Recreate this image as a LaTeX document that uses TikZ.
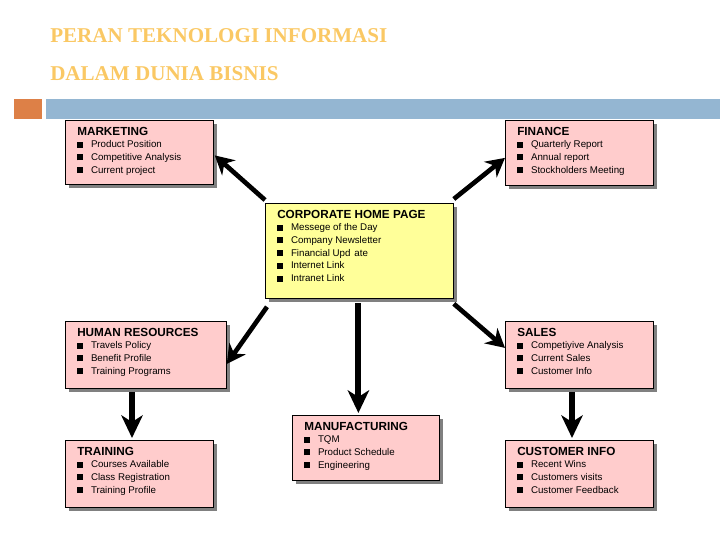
\documentclass[tikz,border=0pt]{standalone}
\usepackage{fontspec}
\setmainfont{Liberation Sans}
\newfontfamily\ttlfont{Liberation Serif}
\usetikzlibrary{arrows.meta,calc}
\definecolor{pinkbox}{HTML}{FFCCCC}
\definecolor{yelbox}{HTML}{FFFF99}
\definecolor{shadowgray}{HTML}{808080}
\definecolor{ttlorange}{HTML}{FAC864}
\definecolor{barblue}{HTML}{94B6D2}
\definecolor{barorange}{HTML}{DD8047}
\newcommand\bulsq{\rule{4.5pt}{4.5pt}\hspace{5.8pt}}
\tikzset{
  boxsty/.style={draw=black, line width=0.6pt, inner sep=0pt},
  ttlsty/.style={anchor=base west, inner sep=0pt, font=\bfseries\fontsize{8.8}{10}\selectfont},
  itemsty/.style={anchor=base west, inner sep=0pt, font=\fontsize{7.3}{9}\selectfont},
  headsty/.style={anchor=base west, inner sep=0pt, text=ttlorange, font=\ttlfont\bfseries\fontsize{15.8}{20}\selectfont},
  diagarr/.style={line width=3.5pt, -{Stealth[length=14pt,width=15pt,inset=4.5pt]}},
  vertarr/.style={line width=4.5pt, -{Stealth[length=17pt,width=16pt,inset=5pt]}}
}
\newcommand\orgbox[8]{%
  \fill[shadowgray] (#2+4,#3+4) rectangle ++(#4,#5);
  \node[boxsty, fill=#6, minimum width=#4*0.75pt, minimum height=#5*0.75pt, anchor=north west] (#1) at (#2,#3) {};
  \node[ttlsty] (#1-t) at (#2+12,#3+15) {#7};
  \foreach \itm [count=\k] in {#8} {\node[itemsty] (#1-\k) at (#2+12,#3+15+12.7*\k) {\bulsq\itm};}
}
\begin{document}
\begin{tikzpicture}[x=0.75pt,y=-0.75pt]
\useasboundingbox (0,0) rectangle (720,540);
\node[headsty] (h1) at (50,42) {PERAN TEKNOLOGI INFORMASI};
\node[headsty] (h2) at (50,80) {DALAM DUNIA BISNIS};
\fill[barorange] (14,99) rectangle (42,119);
\fill[barblue] (46,99) rectangle (720,119);
\orgbox{mk}{65}{120}{148}{64}{pinkbox}{MARKETING}{Product Position,Competitive Analysis,Current project}
\orgbox{fin}{505}{120}{148}{65}{pinkbox}{FINANCE}{Quarterly Report,Annual report,Stockholders Meeting}
\orgbox{corp}{265}{203}{188}{95}{yelbox}{CORPORATE HOME PAGE}{Messege of the Day,Company Newsletter,Financial Upd\hspace{3pt}ate,Internet Link,Intranet Link}
\orgbox{hr}{65}{321}{161}{67}{pinkbox}{HUMAN RESOURCES}{Travels Policy,Benefit Profile,Training Programs}
\orgbox{sales}{505}{321}{148}{67}{pinkbox}{SALES}{Competiyive Analysis,Current Sales,Customer Info}
\orgbox{tr}{65}{440}{148}{67}{pinkbox}{TRAINING}{Courses Available,Class Registration,Training Profile}
\orgbox{manu}{292}{415}{147}{65}{pinkbox}{MANUFACTURING}{TQM,Product Schedule,Engineering}
\orgbox{ci}{505}{440}{148}{67}{pinkbox}{CUSTOMER INFO}{Recent Wins,Customers visits,Customer Feedback}
\draw[diagarr] ($(corp.north west)+(0,-3)$) -- ($(mk.east)+(1,3)$);
\draw[diagarr] ($(corp.north east)+(0,-4)$) -- ($(fin.west)+(0,5)$);
\draw[diagarr] ($(corp.south west)+(2,8)$) -- ($(hr.east)+(0,9)$);
\draw[diagarr] ($(corp.south east)+(0,5)$) -- ($(sales.west)+(0,-7)$);
\draw[vertarr] ($(corp.south)+(-1,4)$) -- ($(corp.south |- manu.north)+(-1,-2)$);
\draw[vertarr] ($(hr.south west)+(67,3)$) -- ($(tr.north west)+(67,-2)$);
\draw[vertarr] ($(sales.south west)+(67,3)$) -- ($(ci.north west)+(67,-2)$);
\end{tikzpicture}
\end{document}
